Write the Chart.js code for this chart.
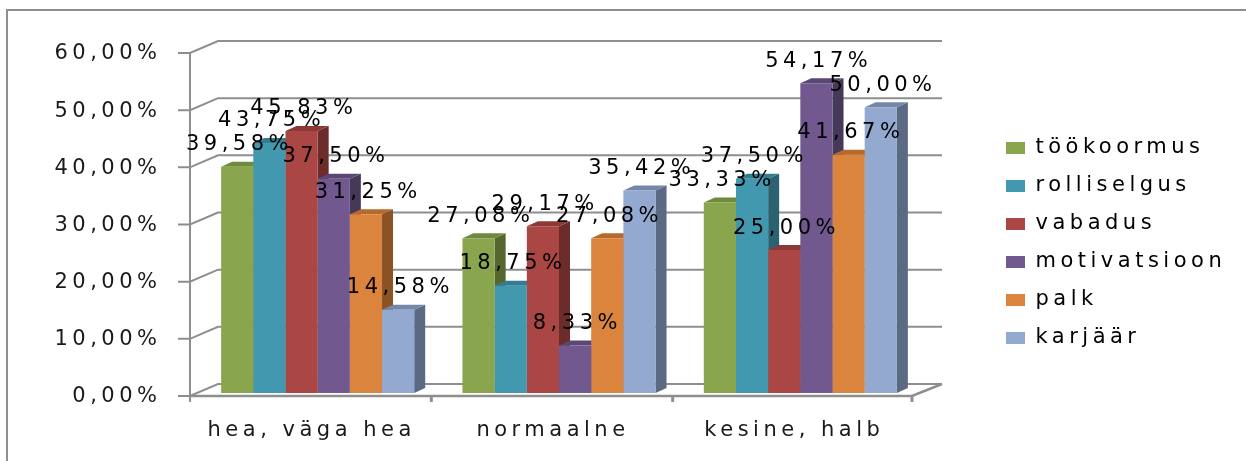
<!DOCTYPE html>
<html>
<head>
<meta charset="utf-8">
<script src="https://cdn.jsdelivr.net/npm/chart.js@4.4.0/dist/chart.umd.min.js"></script>
<style>
html, body { margin: 0; padding: 0; background: #fff; }
</style>
</head>
<body>
<canvas id="myChart" width="1246" height="461"></canvas>
<script>
// data
var categories = ['hea, väga hea', 'normaalne', 'kesine, halb'];
var seriesNames = ['töökoormus', 'rolliselgus', 'vabadus', 'motivatsioon', 'palk', 'karjäär'];
var tookoormus = [0.3958, 0.2708, 0.3333];
var rolliselgus = [0.4375, 0.1875, 0.3750];
var vabadus = [0.4583, 0.2917, 0.2500];
var motivatsioon = [0.3750, 0.0833, 0.5417];
var palk = [0.3125, 0.2708, 0.4167];
var karjaar = [0.1458, 0.3542, 0.5000];
var yTicks = [0, 0.1, 0.2, 0.3, 0.4, 0.5, 0.6];

var frontColors = ['#89A54E', '#4198AF', '#AA4643', '#71588F', '#DB843D', '#93A9CF'];
var topColors = ['#6F8A3C', '#337D90', '#8C3836', '#5B4774', '#B66A2E', '#7587A8'];
var sideColors = ['#55672F', '#2A6271', '#6C2C2A', '#463859', '#8B5225', '#5B6982'];

var fontFam = '"DejaVu Sans", Verdana, sans-serif';
var fontSize = 21;
var spacing = 4.5;
var depthX = 11, depthY = -5;
var lineCol = '#8e8e8e';
var padTop = 25;

function pct(v) {
    return (v * 100).toFixed(2).replace('.', ',') + '%';
}

function setSpacing(chart) {
    chart.ctx.letterSpacing = spacing + 'px';
}

var frame3d = {
    id: 'frame3d',
    beforeLayout: function (chart) {
        setSpacing(chart);
        // legend box always 257 wide so it starts at x=989
        var lg = chart.legend;
        if (lg && !lg._fixedFit) {
            var fit = lg.fit;
            lg.fit = function () {
                fit.call(this);
                this.width = 257;
            };
            lg._fixedFit = true;
        }
    },
    beforeDraw: function (chart) {
        var ctx = chart.ctx;
        ctx.save();
        ctx.fillStyle = '#fff';
        ctx.fillRect(0, 0, chart.width, chart.height);
        ctx.strokeStyle = lineCol;
        ctx.lineWidth = 2;
        ctx.strokeRect(7, 10, chart.width + 20, chart.height + 20);
        ctx.restore();
        setSpacing(chart);
    },
    beforeDatasetsDraw: function (chart) {
        var ctx = chart.ctx;
        var a = chart.chartArea;
        var ys = chart.scales.y;
        var fx = a.left - 7;
        var fr = a.right - 9;
        ctx.save();
        ctx.strokeStyle = lineCol;
        ctx.lineWidth = 2;
        // walls: front tick, diagonal, back gridline
        yTicks.forEach(function (t) {
            var py = ys.getPixelForValue(t);
            ctx.beginPath();
            ctx.moveTo(fx - 12, py + 3);
            ctx.lineTo(fx, py + 3);
            ctx.lineTo(fx + 28, py - 9);
            ctx.lineTo(a.right + 21, py - 9);
            ctx.stroke();
        });
        var base = ys.getPixelForValue(0);
        // front axis
        ctx.beginPath();
        ctx.moveTo(fx, ys.getPixelForValue(0.6) + 3);
        ctx.lineTo(fx, base + 9);
        ctx.stroke();
        // floor front edge
        ctx.lineWidth = 2.5;
        ctx.beginPath();
        ctx.moveTo(fx, base + 3);
        ctx.lineTo(fr, base + 3);
        ctx.lineTo(fr + 30, base - 9);
        ctx.stroke();
        // category ticks
        var cw = (a.right - a.left) / categories.length;
        ctx.lineWidth = 3;
        for (var k = 1; k <= categories.length; k++) {
            var tx = fx + k * cw - (k == categories.length ? 2 : 0);
            ctx.beginPath();
            ctx.moveTo(tx, base + 3);
            ctx.lineTo(tx, base + 9);
            ctx.stroke();
        }

        // top and side faces, left to right so the next front face covers them
        for (var j = 0; j < categories.length; j++) {
            for (var i = 0; i < seriesNames.length; i++) {
                var el = chart.getDatasetMeta(i).data[j];
                var l = el.x - el.width / 2, r = el.x + el.width / 2;
                var top = el.y, b = el.base;
                ctx.fillStyle = sideColors[i];
                ctx.beginPath();
                ctx.moveTo(r, top);
                ctx.lineTo(r + depthX, top + depthY);
                ctx.lineTo(r + depthX, b + depthY);
                ctx.lineTo(r, b);
                ctx.closePath();
                ctx.fill();
                ctx.fillStyle = topColors[i];
                ctx.beginPath();
                ctx.moveTo(l, top);
                ctx.lineTo(r, top);
                ctx.lineTo(r + depthX, top + depthY);
                ctx.lineTo(l + depthX, top + depthY);
                ctx.closePath();
                ctx.fill();
            }
        }
        ctx.restore();
    },
    afterDatasetsDraw: function (chart) {
        var ctx = chart.ctx;
        ctx.save();
        setSpacing(chart);
        ctx.font = fontSize + 'px ' + fontFam;
        ctx.fillStyle = '#000';
        ctx.textAlign = 'center';
        ctx.textBaseline = 'middle';
        chart.data.datasets.forEach(function (ds, i) {
            chart.getDatasetMeta(i).data.forEach(function (el, j) {
                ctx.fillText(pct(ds.data[j]), el.x + spacing / 2, el.y - 22);
            });
        });
        ctx.restore();
    }
};

var allSeries = [tookoormus, rolliselgus, vabadus, motivatsioon, palk, karjaar];
var datasets = [];
for (var i = 0; i < seriesNames.length; i++) {
    datasets.push({
        label: seriesNames[i],
        data: allSeries[i],
        backgroundColor: frontColors[i],
        borderWidth: 0,
        xAxisID: 'x',
        yAxisID: 'y',
        categoryPercentage: 0.8,
        barPercentage: 1.0
    });
}

var ctx = document.getElementById('myChart');
var myChart = new Chart(ctx, {
    type: 'bar',
    data: { labels: categories, datasets: datasets },
    plugins: [frame3d],
    options: {
        responsive: false,
        animation: false,
        devicePixelRatio: 1,
        layout: { padding: { left: 0, right: 0, top: padTop, bottom: 0 } },
        plugins: {
            tooltip: { enabled: false },
            legend: {
                position: 'right',
                labels: {
                    boxWidth: 19,
                    boxHeight: 12,
                    padding: 17,
                    color: '#000',
                    font: { family: fontFam, size: fontSize }
                }
            }
        },
        scales: {
            x: {
                position: 'bottom',
                grid: { display: false, drawTicks: false },
                border: { display: false },
                ticks: {
                    color: '#1a1a1a',
                    font: { family: fontFam, size: fontSize },
                    padding: 25,
                    labelOffset: -6,
                    maxRotation: 0
                },
                afterFit: function (s) { s.height = 68; }
            },
            y: {
                position: 'left',
                min: 0,
                max: 0.6,
                grid: { display: false, drawTicks: false },
                border: { display: false },
                ticks: {
                    stepSize: 0.1,
                    color: '#1a1a1a',
                    font: { family: fontFam, size: fontSize },
                    padding: 35.5,
                    labelOffset: 4,
                    callback: function (v) { return pct(v); }
                },
                afterFit: function (s) { s.width = 197; }
            },
            xTop: {
                type: 'linear',
                position: 'top',
                grid: { display: false, drawTicks: false },
                border: { display: false },
                ticks: { display: false },
                afterFit: function (s) { s.height = 50 - padTop; }
            },
            yPad: {
                type: 'linear',
                position: 'right',
                grid: { display: false, drawTicks: false },
                border: { display: false },
                ticks: { display: false },
                afterFit: function (s) { s.width = 68; }
            }
        }
    }
});
</script>
</body>
</html>
